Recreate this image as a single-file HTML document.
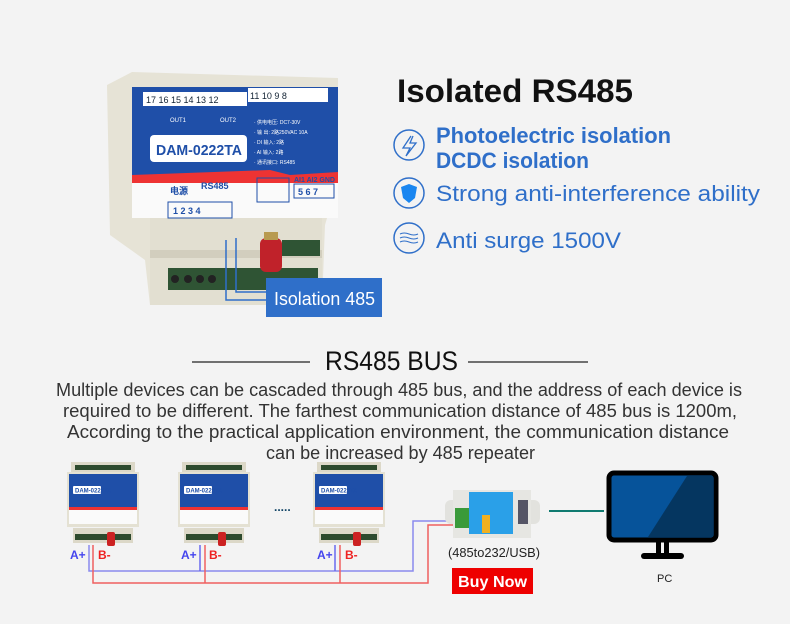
<!DOCTYPE html>
<html><head><meta charset="utf-8"><style>
html,body{margin:0;padding:0;background:#f3f3f3}
svg{display:block}
text{font-family:"Liberation Sans",sans-serif}
</style></head><body>
<svg width="790" height="624" viewBox="0 0 790 624" xmlns="http://www.w3.org/2000/svg">
<rect width="790" height="624" fill="#f3f3f3"/>
<defs>
<g id="dev">
 <rect x="4" y="0" width="64" height="10" fill="#dcd8c8"/>
 <rect x="8" y="3" width="56" height="5" fill="#2d4a2d"/>
 <rect x="0" y="10" width="72" height="55" fill="#e4e1d3"/>
 <rect x="2" y="12" width="68" height="34" fill="#1f4fa8"/>
 <rect x="6" y="24" width="28" height="8" fill="#fff" rx="1"/>
 <text x="8" y="30.5" font-size="6" font-weight="bold" fill="#1f4fa8">DAM-0222TA</text>
 <rect x="2" y="45" width="68" height="3" fill="#e33"/>
 <rect x="2" y="48" width="68" height="14" fill="#fafafa"/>
 <rect x="6" y="66" width="60" height="15" fill="#dcd8c8"/>
 <rect x="8" y="72" width="56" height="6" fill="#2d4a2d"/>
 <rect x="40" y="70" width="8" height="14" fill="#c22" rx="2"/>
</g>
</defs>

<!-- main device -->
<polygon points="107,85 132,72 338,78 338,180 325,225 322,305 150,305 145,260 110,235" fill="#e6e3d6"/>
<rect x="150" y="218" width="172" height="87" fill="#e2dfd1"/>
<rect x="132" y="87" width="206" height="90" fill="#1f4fa8"/>
<polygon points="132,175 270,170 290,175 338,172 338,184 132,184" fill="#e33"/>
<rect x="132" y="183" width="206" height="35" fill="#fafafa"/>
<g font-size="9" fill="#1f4fa8">
 <rect x="143" y="92" width="104" height="14" fill="#fff"/>
 <rect x="248" y="88" width="80" height="14" fill="#fff"/>
 <text x="146" y="103" fill="#123">17 16 15 14 13 12</text>
 <text x="250" y="99" fill="#123">11  10  9  8</text>
 <text x="170" y="122" fill="#fff" font-size="6">OUT1</text>
 <text x="220" y="122" fill="#fff" font-size="6">OUT2</text>
 <text x="254" y="124" fill="#fff" font-size="5">· 供电电压: DC7-30V</text>
 <text x="254" y="134" fill="#fff" font-size="5">· 输 出: 2路250VAC 10A</text>
 <text x="254" y="144" fill="#fff" font-size="5">· DI 输入: 2路</text>
 <text x="254" y="154" fill="#fff" font-size="5">· AI 输入: 2路</text>
 <text x="254" y="164" fill="#fff" font-size="5">· 通讯接口: RS485</text>
</g>
<rect x="150" y="135" width="97" height="27" rx="4" fill="#fff"/>
<text x="156" y="155" font-size="15" font-weight="bold" fill="#1f4fa8" textLength="86" lengthAdjust="spacingAndGlyphs">DAM-0222TA</text>
<g font-size="9" fill="#1f4fa8" font-weight="bold">
 <text x="170" y="194" font-family="Noto Sans CJK SC,sans-serif">电源</text>
 <text x="201" y="189">RS485</text>
 <rect x="168" y="202" width="64" height="16" fill="none" stroke="#1f4fa8"/>
 <text x="173" y="214">1   2   3   4</text>
 <rect x="257" y="178" width="32" height="24" fill="none" stroke="#1f4fa8"/>
 <text x="294" y="182" font-size="7">AI1 AI2 GND</text>
 <rect x="294" y="184" width="40" height="14" fill="none" stroke="#1f4fa8"/>
 <text x="298" y="195">5  6  7</text>
</g>
<rect x="150" y="250" width="172" height="8" fill="#d2cebe"/>
<rect x="168" y="268" width="150" height="22" fill="#2f5434"/>
<g fill="#222"><circle cx="175" cy="279" r="4"/><circle cx="188" cy="279" r="4"/><circle cx="200" cy="279" r="4"/><circle cx="212" cy="279" r="4"/><circle cx="296" cy="249" r="4"/><circle cx="308" cy="249" r="4"/></g>
<rect x="282" y="240" width="38" height="16" fill="#2f5434"/>
<rect x="260" y="238" width="22" height="34" rx="6" fill="#c0222a"/>
<rect x="264" y="232" width="14" height="8" fill="#b89a50"/>
<polyline points="226,240 226,300 266,300" fill="none" stroke="#2f6fc9" stroke-width="1.5"/>
<polyline points="236,238 236,292 266,292" fill="none" stroke="#2f6fc9" stroke-width="1.5"/>
<rect x="266" y="278" width="116" height="39" fill="#2f6fc9"/>
<text x="274" y="305" font-size="18" fill="#fff" textLength="101" lengthAdjust="spacingAndGlyphs">Isolation 485</text>

<!-- right header -->
<text x="397" y="102" font-size="32" font-weight="bold" fill="#111" textLength="236" lengthAdjust="spacingAndGlyphs">Isolated RS485</text>
<g fill="none" stroke="#2f6fc9" stroke-width="1.5">
 <circle cx="409" cy="145" r="15"/>
 <circle cx="409" cy="193" r="15"/>
 <circle cx="409" cy="238" r="15"/>
 <polyline points="411,136 403,148 410,148 406,156 416,143 410,143 413,136" stroke-width="1.3"/>
 <path d="M400 234 q4 -2 9 0 t9 0 M400 238 q4 -2 9 0 t9 0 M400 242 q4 -2 9 0 t9 0" stroke-width="1"/>
</g>
<path d="M409 184 L417 187 L415 198 L409 203 L403 198 L401 187 Z" fill="#1a86f0"/>
<g font-size="22" fill="#2f6fc9">
 <text x="436" y="143" font-weight="bold" textLength="235" lengthAdjust="spacingAndGlyphs">Photoelectric isolation</text>
 <text x="436" y="168" font-weight="bold" textLength="153" lengthAdjust="spacingAndGlyphs">DCDC isolation</text>
 <text x="436" y="201" textLength="324" lengthAdjust="spacingAndGlyphs">Strong anti-interference ability</text>
 <text x="436" y="248" textLength="185" lengthAdjust="spacingAndGlyphs">Anti surge 1500V</text>
</g>

<!-- bus title -->
<line x1="192" y1="362" x2="310" y2="362" stroke="#222" stroke-width="1.2"/>
<line x1="468" y1="362" x2="588" y2="362" stroke="#222" stroke-width="1.2"/>
<text x="325" y="370" font-size="27" fill="#111" textLength="133" lengthAdjust="spacingAndGlyphs">RS485 BUS</text>
<g font-size="18" fill="#333">
 <text x="56" y="396" textLength="686" lengthAdjust="spacingAndGlyphs">Multiple devices can be cascaded through 485 bus, and the address of each device is</text>
 <text x="63" y="417" textLength="674" lengthAdjust="spacingAndGlyphs">required to be different. The farthest communication distance of 485 bus is 1200m,</text>
 <text x="67" y="438" textLength="662" lengthAdjust="spacingAndGlyphs">According to the practical application environment, the communication distance</text>
 <text x="266" y="459" textLength="269" lengthAdjust="spacingAndGlyphs">can be increased by 485 repeater</text>
</g>

<!-- small devices -->
<use href="#dev" x="67" y="462"/>
<use href="#dev" x="178" y="462"/>
<use href="#dev" x="313" y="462"/>
<text x="274" y="511" font-size="12" fill="#146" font-weight="bold">.....</text>

<!-- wires -->
<g fill="none" stroke-width="1.5">
 <polyline points="89,545 89,571 413,571 413,521 452,521" stroke="#8a8aee"/>
 <line x1="200" y1="545" x2="200" y2="571" stroke="#6a6aee"/>
 <line x1="335" y1="545" x2="335" y2="571" stroke="#6a6aee"/>
 <polyline points="93,545 93,583 428,583 428,525 455,525" stroke="#f06060"/>
 <line x1="205" y1="545" x2="205" y2="583" stroke="#f06060"/>
 <line x1="340" y1="545" x2="340" y2="583" stroke="#f06060"/>
</g>
<g font-size="12" font-weight="bold">
 <text x="70" y="559" fill="#4444ee">A+</text><text x="98" y="559" fill="#ee2222">B-</text>
 <text x="181" y="559" fill="#4444ee">A+</text><text x="209" y="559" fill="#ee2222">B-</text>
 <text x="317" y="559" fill="#4444ee">A+</text><text x="345" y="559" fill="#ee2222">B-</text>
</g>

<!-- converter -->
<rect x="445" y="500" width="95" height="24" rx="6" fill="#e2e2de"/>
<rect x="453" y="490" width="78" height="48" fill="#e6e6e2"/>
<rect x="469" y="492" width="44" height="42" fill="#2aa0e8"/>
<rect x="482" y="515" width="8" height="18" fill="#f0b020"/>
<rect x="455" y="508" width="14" height="20" fill="#3a9a3a"/>
<rect x="518" y="500" width="10" height="24" fill="#556"/>
<text x="448" y="557" font-size="13" fill="#222" textLength="92" lengthAdjust="spacingAndGlyphs">(485to232/USB)</text>
<rect x="452" y="568" width="81" height="26" fill="#ee0000"/>
<text x="458" y="587" font-size="16" font-weight="bold" fill="#fff" textLength="69" lengthAdjust="spacingAndGlyphs">Buy Now</text>

<!-- PC -->
<line x1="549" y1="511" x2="604" y2="511" stroke="#0f7a70" stroke-width="2"/>
<rect x="609" y="473" width="107" height="67" rx="5" fill="#06539a" stroke="#000" stroke-width="5"/>
<polygon points="687,476 713,476 713,537 648,537" fill="#053660"/>
<rect x="656" y="542" width="5" height="12" fill="#000"/>
<rect x="664" y="542" width="5" height="12" fill="#000"/>
<rect x="641" y="553" width="43" height="6" rx="3" fill="#000"/>
<text x="657" y="582" font-size="11" fill="#222">PC</text>
</svg>
</body></html>
